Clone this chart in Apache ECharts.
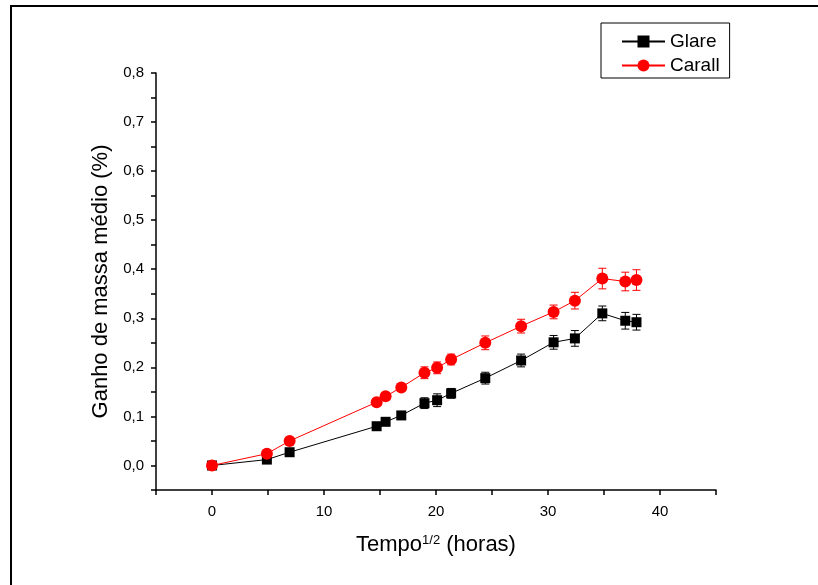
<!DOCTYPE html>
<html>
<head>
<meta charset="utf-8">
<script src="https://cdn.jsdelivr.net/npm/echarts@6/dist/echarts.min.js"></script>
<style>
  html, body { margin: 0; padding: 0; background: #fff; }
  #chart { width: 818px; height: 585px; }
</style>
</head>
<body>
<div id="chart"></div>
<script>
// ---- data ----
const timeSqrt   = [0, 4.9, 6.93, 14.7, 15.5, 16.9, 18.97, 20.1, 21.35, 24.4, 27.6, 30.5, 32.4, 34.85, 36.9, 37.9];
const glare      = [0, 0.012, 0.027, 0.080, 0.089, 0.102, 0.127, 0.133, 0.147, 0.178, 0.214, 0.251, 0.259, 0.310, 0.295, 0.292];
const glareErr   = [0.003, 0.005, 0.005, 0.006, 0.007, 0.008, 0.011, 0.013, 0.010, 0.012, 0.013, 0.014, 0.016, 0.015, 0.017, 0.016];
const carall     = [0, 0.024, 0.050, 0.129, 0.141, 0.159, 0.189, 0.199, 0.216, 0.250, 0.284, 0.313, 0.336, 0.381, 0.375, 0.378];
const carallErr  = [0.003, 0.004, 0.005, 0.005, 0.006, 0.007, 0.012, 0.012, 0.011, 0.014, 0.014, 0.014, 0.017, 0.021, 0.019, 0.021];
const seriesNames = ['Glare', 'Carall'];
const xTitle = 'Tempo{sup|1/2} (horas)';
const yTitle = 'Ganho de massa médio (%)';

const FONT = '"Liberation Sans", Arial, sans-serif';

function pairs(xs, ys) { return xs.map((x, i) => [x, ys[i]]); }
function errRows(xs, ys, es) { return xs.map((x, i) => [x, ys[i] - es[i], ys[i] + es[i]]); }

function errorBarRender(color) {
  return function (params, api) {
    const x = api.value(0);
    const top = api.coord([x, api.value(2)]);
    const bot = api.coord([x, api.value(1)]);
    const hw = 4;
    const style = { stroke: color, lineWidth: 1 };
    return {
      type: 'group',
      children: [
        { type: 'line', shape: { x1: top[0], y1: top[1], x2: bot[0], y2: bot[1] }, style },
        { type: 'line', shape: { x1: top[0] - hw, y1: top[1], x2: top[0] + hw, y2: top[1] }, style },
        { type: 'line', shape: { x1: bot[0] - hw, y1: bot[1], x2: bot[0] + hw, y2: bot[1] }, style }
      ]
    };
  };
}

const chart = echarts.init(document.getElementById('chart'), null, { renderer: 'canvas' });

chart.setOption({
  backgroundColor: '#fff',
  animation: false,
  textStyle: { fontFamily: FONT, color: '#000' },
  graphic: [{
    type: 'rect',
    shape: { x: 11, y: 6, width: 900, height: 700 },
    style: { fill: 'none', stroke: '#000', lineWidth: 2 },
    silent: true
  }],
  grid: { left: 156, right: 102, top: 73, bottom: 95 },
  legend: {
    data: seriesNames,
    orient: 'vertical',
    left: 601,
    top: 23,
    padding: [9, 10, 3, 20],
    itemWidth: 43,
    itemHeight: 15,
    itemGap: 5,
    borderColor: '#000',
    borderWidth: 1,
    borderRadius: 0,
    textStyle: { fontFamily: FONT, fontSize: 19, color: '#000', lineHeight: 19 }
  },
  xAxis: {
    type: 'value',
    min: -5, max: 45, interval: 5,
    name: xTitle,
    nameLocation: 'middle',
    nameGap: 44,
    nameTextStyle: {
      fontFamily: FONT, fontSize: 22, color: '#000',
      rich: { sup: { fontFamily: FONT, fontSize: 13, color: '#000', verticalAlign: 'top', padding: [0, 0, 4, 0] } }
    },
    axisLine: { show: true, onZero: false, lineStyle: { color: '#000', width: 1.5 } },
    axisTick: { show: true, inside: false, length: 5, lineStyle: { color: '#000', width: 1.5 } },
    splitLine: { show: false },
    axisLabel: {
      fontFamily: FONT, fontSize: 15, color: '#000', margin: 14,
      showMinLabel: true, showMaxLabel: true,
      formatter: v => (Math.abs(v % 10) < 1e-9 && v >= 0 && v <= 40) ? String(v) : ''
    }
  },
  yAxis: {
    type: 'value',
    min: -0.05, max: 0.8, interval: 0.05,
    name: yTitle,
    nameLocation: 'middle',
    nameGap: 40,
    nameTextStyle: { fontFamily: FONT, fontSize: 22, color: '#000' },
    axisLine: { show: true, onZero: false, lineStyle: { color: '#000', width: 1.5 } },
    axisTick: { show: true, inside: false, length: 5, lineStyle: { color: '#000', width: 1.5 } },
    splitLine: { show: false },
    axisLabel: {
      fontFamily: FONT, fontSize: 15, color: '#000', margin: 12,
      formatter: v => {
        const k = Math.round(v * 100);
        if (k < 0 || k % 10 !== 0) return '';
        return (k / 100).toFixed(1).replace('.', ',');
      }
    }
  },
  series: [
    {
      type: 'custom', name: 'GlareErr', silent: true, z: 1,
      renderItem: errorBarRender('#000'),
      encode: { x: 0, y: [1, 2] },
      data: errRows(timeSqrt, glare, glareErr)
    },
    {
      type: 'custom', name: 'CarallErr', silent: true, z: 1,
      renderItem: errorBarRender('#ff0000'),
      encode: { x: 0, y: [1, 2] },
      data: errRows(timeSqrt, carall, carallErr)
    },
    {
      name: 'Glare', type: 'line', z: 3,
      data: pairs(timeSqrt, glare),
      symbol: 'rect', symbolSize: 10,
      itemStyle: { color: '#000' },
      lineStyle: { color: '#000', width: 1 },
      showAllSymbol: true
    },
    {
      name: 'Carall', type: 'line', z: 4,
      data: pairs(timeSqrt, carall),
      symbol: 'circle', symbolSize: 12,
      itemStyle: { color: '#ff0000' },
      lineStyle: { color: '#ff0000', width: 1 },
      showAllSymbol: true
    }
  ]
});
</script>
</body>
</html>
